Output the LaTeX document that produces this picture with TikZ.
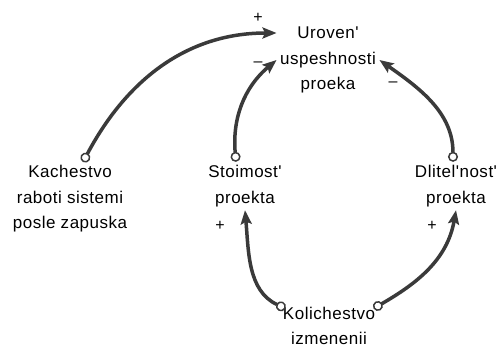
\documentclass[tikz,border=0pt]{standalone}
\usepackage{fontspec}
\setmainfont{Liberation Sans}[Ligatures=TeXOff, LetterSpace=3]
\definecolor{LinkGray}{RGB}{58, 58, 58}
\usetikzlibrary{arrows.meta}

\begin{document}
\begin{tikzpicture}[
            x=1pt, y=-1pt,
            var/.style={align=center, font=\fontsize{17}{25.5}\selectfont},
            sign/.style={font=\fontsize{16}{16}\selectfont},
            link/.style={{Circle[length=10pt, line width=1.5pt, fill=white]}-{Stealth[length=14pt, width=11pt, inset=2.5pt]},
                         line width=3.5pt, LinkGray}
        ]
            \useasboundingbox (0,0) rectangle (500,350);

            \node[var] (usp) at (328,60) {Uroven'\\uspeshnosti\\proeka};
            \node[var] (kach) at (70,199) {Kachestvo\\raboti sistemi\\posle zapuska};
            \node[var] (stoi) at (245,186) {Stoimost'\\proekta};
            \node[var] (dlit) at (456,186) {Dlitel'nost'\\proekta};
            \node[var] (kol) at (329,326) {Kolichestvo\\izmenenii};

            \draw[link] ([xshift=13pt]kach.north) to[out=62, in=180] ([yshift=27pt]usp.west);
            \draw[link] ([xshift=-9pt]stoi.north) to[out=95, in=220] (usp.west);
            \draw[link] ([xshift=-3pt]dlit.north) to[out=90, in=-35] (usp.east);
            \draw[link] ([xshift=6pt, yshift=-5pt]kol.north west) to[out=155, in=-85] (stoi.south);
            \draw[link] ([xshift=-5pt, yshift=-5pt]kol.north east) to[out=30, in=-100] (dlit.south);

            \node[sign] (s1) at (258,18) {+};
            \node[sign] (s2) at (258,64) {–};
            \node[sign] (s3) at (393,84) {–};
            \node[sign] (s4) at (220,226) {+};
            \node[sign] (s5) at (432,226) {+};
        \end{tikzpicture}
\end{document}
